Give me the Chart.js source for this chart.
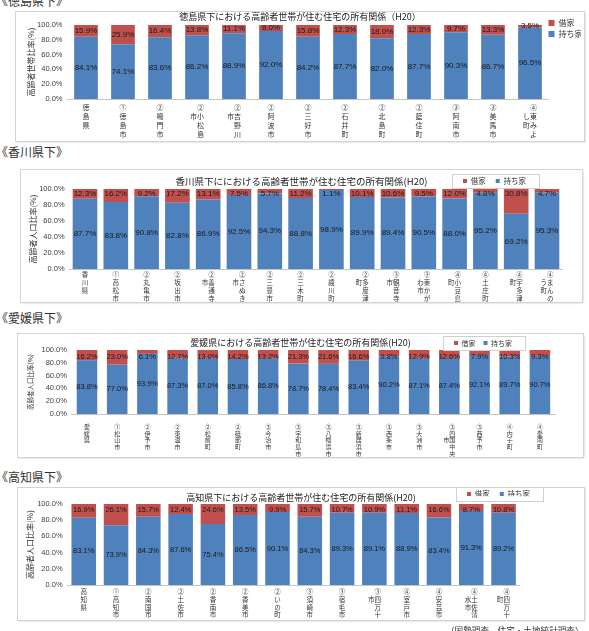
<!DOCTYPE html>
<html lang="ja">
<head>
<meta charset="utf-8">
<title>高齢者世帯が住む住宅の所有関係（H20）</title>
<script src="https://cdn.jsdelivr.net/npm/chart.js@4.4.1/dist/chart.umd.min.js"></script>
<style>
  html, body { margin: 0; padding: 0; background: #fff; }
  body { width: 589px; height: 631px; position: relative; overflow: hidden;
         font-family: "Noto Sans CJK JP", sans-serif; color: #333; }
  .head { position: absolute; left: -4px; font-size: 12px; line-height: 13px; white-space: nowrap; }
  .box { position: absolute; outline: 1px solid #d3d3d3; box-shadow: 1px 1px 2px rgba(0,0,0,.25); }
  .box canvas { display: block; }
  .note { position: absolute; left: 446px; top: 625px; font-size: 8.6px; line-height: 10px; white-space: nowrap; }
</style>
</head>
<body>

<div class="head" style="top:-6px">《徳島県下》</div>
<div class="box" style="left:16px;top:12px;width:568px;height:129px"><canvas id="c1" width="568" height="129"></canvas></div>

<div class="head" style="top:145px">《香川県下》</div>
<div class="box" style="left:21px;top:170px;width:561px;height:132px"><canvas id="c2" width="561" height="132"></canvas></div>

<div class="head" style="top:311px">《愛媛県下》</div>
<div class="box" style="left:18px;top:334px;width:565px;height:123px"><canvas id="c3" width="565" height="123"></canvas></div>

<div class="head" style="top:470px">《高知県下》</div>
<div class="box" style="left:18px;top:488px;width:566px;height:132px"><canvas id="c4" width="566" height="132"></canvas></div>

<div class="note">（国勢調査、住宅・土地統計調査）</div>

<script>
// ===============================
// Data (H20)
// ===============================
const seriesNames = ["持ち家", "借家"];
const yTickLabels = ["0.0%", "20.0%", "40.0%", "60.0%", "80.0%", "100.0%"];

const tokushimaAreas = ["徳島県", "①徳島市", "②鳴門市", "②小松島市", "②吉野川市", "②阿波市", "②三好市",
    "②石井町", "②北島町", "②藍住町", "③阿南市", "③美馬市", "④東みよし町"];
const tokushimaOwned = [84.1, 74.1, 83.6, 86.2, 88.9, 92.0, 84.2, 87.7, 82.0, 87.7, 90.3, 86.7, 96.5];
const tokushimaRented = [15.9, 25.9, 16.4, 13.8, 11.1, 8.0, 15.8, 12.3, 18.0, 12.3, 9.7, 13.3, 3.5];

const kagawaAreas = ["香川県", "①高松市", "②丸亀市", "②坂出市", "②善通寺市", "②さぬき市", "②三豊市", "②三木町",
    "②綾川町", "②多度津町", "③観音寺市", "③東かがわ市", "④小豆島町", "④土庄町", "④宇多津町", "④まんのう町"];
const kagawaOwned = [87.7, 83.8, 90.8, 82.8, 86.9, 92.5, 94.3, 88.8, 98.9, 89.9, 89.4, 90.5, 88.0, 95.2, 69.2, 95.3];
const kagawaRented = [12.3, 16.2, 9.2, 17.2, 13.1, 7.5, 5.7, 11.2, 1.1, 10.1, 10.6, 9.5, 12.0, 4.8, 30.8, 4.7];

const ehimeAreas = ["愛媛県", "①松山市", "②伊予市", "②東温市", "②松前町", "②砥部町", "③今治市", "③宇和島市",
    "③八幡浜市", "③新居浜市", "③西条市", "③大洲市", "③四国中央市", "③西予市", "④内子町", "④愛南町"];
const ehimeOwned = [83.8, 77.0, 93.9, 87.3, 87.0, 85.8, 86.8, 78.7, 78.4, 83.4, 90.2, 87.1, 87.4, 92.1, 89.7, 90.7];
const ehimeRented = [16.2, 23.0, 6.1, 12.7, 13.0, 14.2, 13.2, 21.3, 21.6, 16.6, 9.8, 12.9, 12.6, 7.9, 10.3, 9.3];

const kochiAreas = ["高知県", "①高知市", "②南国市", "②土佐市", "②香南市", "②香美市", "②いの町",
    "③須崎市", "③宿毛市", "③四万十市", "④室戸市", "④安芸市", "④土佐清水市", "④四万十町"];
const kochiOwned = [83.1, 73.9, 84.3, 87.6, 75.4, 86.5, 90.1, 84.3, 89.3, 89.1, 88.9, 83.4, 91.3, 89.2];
const kochiRented = [16.9, 26.1, 15.7, 12.4, 24.6, 13.5, 9.9, 15.7, 10.7, 10.9, 11.1, 16.6, 8.7, 10.8];

const BLUE = "#4F81BD";
const RED = "#C0504D";

Chart.defaults.font.family = "'Noto Sans CJK JP', sans-serif";
Chart.defaults.color = "#333";

// vertical (tategaki) tick label: columns of n chars, read right to left
function tate(name, n) {
    const chars = Array.from(name);
    const cols = [];
    for (let i = 0; i < chars.length; i += n) cols.push(chars.slice(i, i + n));
    const rows = cols[0].length;
    const lines = [];
    for (let r = 0; r < rows; r++) {
        let line = "";
        for (let c = cols.length - 1; c >= 0; c--) {
            const off = Math.floor((rows - cols[c].length) / 2);
            line += cols[c][r - off] || "　";
        }
        lines.push(line);
    }
    return lines;
}

// value labels on the bar segments
const barLabels = {
    id: "barLabels",
    afterDatasetsDraw(chart, args, opts) {
        const ctx = chart.ctx;
        ctx.save();
        ctx.font = opts.size + "px 'Liberation Sans', sans-serif";
        ctx.fillStyle = "#1a1a1a";
        ctx.textAlign = "center";
        ctx.textBaseline = "middle";
        chart.data.datasets.forEach((ds, i) => {
            chart.getDatasetMeta(i).data.forEach((bar, j) => {
                let y = (bar.y + bar.base) / 2;
                if (i === 1 && opts.rentedTop) y = bar.y + opts.rentedTop;
                ctx.fillText(ds.data[j].toFixed(1) + "%", bar.x, y);
            });
        });
        ctx.restore();
    }
};

// move the legend next to the title and frame it
const legendNudge = {
    id: "legendNudge",
    afterLayout(chart, args, opts) {
        const lg = chart.legend;
        lg.left += opts.dx; lg.right += opts.dx;
        lg.top += opts.dy; lg.bottom += opts.dy;
    },
    afterDraw(chart, args, opts) {
        if (!opts.frame) return;
        const boxes = chart.legend.legendHitBoxes;
        const left = Math.min(...boxes.map(b => b.left)) - 11;
        const right = Math.max(...boxes.map(b => b.left + b.width)) + 13;
        const mid = boxes[0].top + boxes[0].height / 2;
        const ctx = chart.ctx;
        ctx.save();
        ctx.strokeStyle = "#d0d0d0";
        ctx.lineWidth = 1;
        ctx.strokeRect(Math.round(left) + 0.5, Math.round(mid - 7) + 0.5, Math.round(right - left), 14);
        ctx.restore();
    }
};

function makeChart(id, c) {
    const scales = {
        x: {
            stacked: true,
            grid: { display: false, drawTicks: false },
            border: { color: "#c4c4c4" },
            ticks: {
                autoSkip: false, maxRotation: 0, minRotation: 0,
                padding: c.xPad, color: "#333",
                font: { size: c.xFont, lineHeight: c.xLine }
            },
            afterFit: s => { s.height = c.xHeight; }
        },
        y: {
            stacked: true, min: 0, max: 100,
            grid: { display: false, drawTicks: false },
            border: { display: false },
            ticks: {
                stepSize: 20, padding: 5, color: "#404040",
                font: { size: 7.5, family: "'Liberation Sans', sans-serif" },
                callback: (v, i) => yTickLabels[i]
            },
            title: {
                display: true, text: c.yTitle, color: "#333",
                font: { size: c.yTitleSize, lineHeight: 1.2 },
                padding: { top: c.yTitleX, bottom: 0 }
            },
            afterFit: s => { s.width = c.yWidth; }
        }
    };
    if (c.rightGap) {
        scales.gap = {
            position: "right",
            grid: { display: false, drawTicks: false },
            border: { display: false },
            ticks: { display: false },
            afterFit: s => { s.width = c.rightGap; }
        };
    }

    return new Chart(document.getElementById(id), {
        type: "bar",
        data: {
            labels: c.areas.map(a => tate(a, c.colLen)),
            datasets: [
                { label: seriesNames[0], data: c.owned, backgroundColor: BLUE },
                { label: seriesNames[1], data: c.rented, backgroundColor: RED }
            ]
        },
        options: {
            responsive: false,
            animation: false,
            events: [],
            datasets: { bar: { barPercentage: c.barPct, categoryPercentage: 1 } },
            plugins: {
                title: {
                    display: true, text: c.title, color: "#222",
                    font: { size: c.titleSize, lineHeight: 1.2, weight: "normal" },
                    padding: c.titlePad
                },
                legend: c.legend,
                tooltip: { enabled: false },
                barLabels: { size: c.labelSize, rentedTop: c.rentedTop },
                legendNudge: c.nudge
            },
            scales: scales
        },
        plugins: [barLabels, legendNudge]
    });
}

function topLegend(font, pad, maxHeight) {
    return {
        position: "top", align: "end", reverse: true, maxHeight: maxHeight,
        labels: { boxWidth: 4, boxHeight: 4, padding: pad, color: "#333", font: { size: font } }
    };
}

// ===============================
// Charts
// ===============================
makeChart("c1", {
    areas: tokushimaAreas, owned: tokushimaOwned, rented: tokushimaRented, colLen: 4,
    title: "徳島県下における高齢者世帯が住む住宅の所有関係（H20）", titleSize: 9,
    titlePad: { top: -0.4, bottom: 2.6 },
    legend: {
        position: "right", align: "start", fullSize: false, maxWidth: 35.5, reverse: true,
        labels: { boxWidth: 6, boxHeight: 6, padding: 3, color: "#333", font: { size: 8 } }
    },
    nudge: { dx: -3, dy: -9, frame: false },
    xHeight: 42, xPad: 3.9, xFont: 7, xLine: 1.27,
    yWidth: 51.5, yTitle: "高齢者世帯比率(%)", yTitleSize: 8, yTitleX: 10.2,
    barPct: 0.64, labelSize: 8, rentedTop: 0
});

makeChart("c2", {
    areas: kagawaAreas, owned: kagawaOwned, rented: kagawaRented, colLen: 4,
    title: "香川県下ににおける高齢者世帯が住む住宅の所有関係(H20)", titleSize: 9.5,
    titlePad: { top: 5.3, bottom: -16.7 },
    legend: topLegend(7.5, 10, 19),
    nudge: { dx: -46, dy: -2.75, frame: true },
    xHeight: 33, xPad: 2.1, xFont: 6.5, xLine: 1.2,
    yWidth: 48.6, rightGap: 19.6, yTitle: "高齢者人口比率(%)", yTitleSize: 8, yTitleX: 7.2,
    barPct: 0.8, labelSize: 8, rentedTop: 5
});

makeChart("c3", {
    areas: ehimeAreas, owned: ehimeOwned, rented: ehimeRented, colLen: 5,
    title: "愛媛県における高齢者世帯が住む住宅の所有関係(H20)", titleSize: 9,
    titlePad: { top: 3.6, bottom: -14.4 },
    legend: topLegend(7, 8, 16),
    nudge: { dx: -63, dy: -2.5, frame: true },
    xHeight: 43, xPad: 9.3, xFont: 6, xLine: 1.12,
    yWidth: 53.9, rightGap: 28, yTitle: "高齢者人口比率(%)", yTitleSize: 6.5, yTitleX: 9.1,
    barPct: 0.68, labelSize: 7.5, rentedTop: 7
});

makeChart("c4", {
    areas: kochiAreas, owned: kochiOwned, rented: kochiRented, colLen: 4,
    title: "高知県下における高齢者世帯が住む住宅の所有関係(H20)", titleSize: 9,
    titlePad: { top: 4.6, bottom: -15.4 },
    legend: topLegend(7.5, 10, 16),
    nudge: { dx: -44, dy: -7.75, frame: true },
    xHeight: 35, xPad: 3.2, xFont: 6.5, xLine: 1.17,
    yWidth: 49.6, rightGap: 64.3, yTitle: "高齢者人口比率(%)", yTitleSize: 8, yTitleX: 7.2,
    barPct: 0.76, labelSize: 7.5, rentedTop: 6
});
</script>
</body>
</html>
